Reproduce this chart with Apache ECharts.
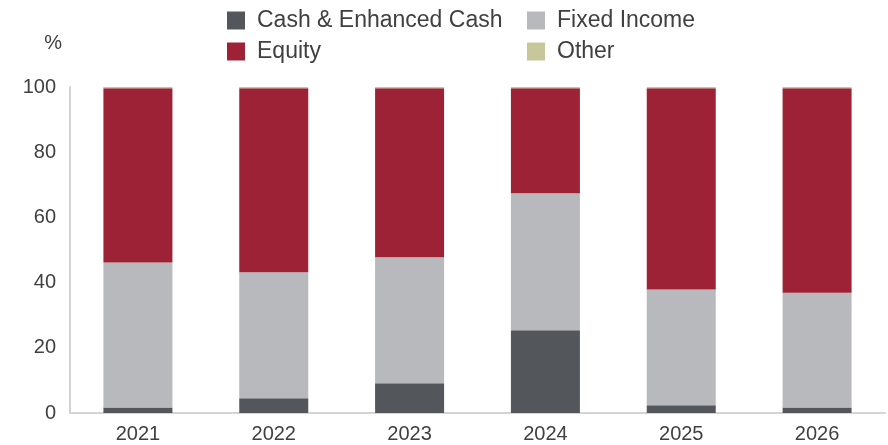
<!DOCTYPE html>
<html>
<head>
<meta charset="utf-8">
<script src="https://cdn.jsdelivr.net/npm/echarts@6/dist/echarts.min.js"></script>
<style>
  html, body { margin: 0; padding: 0; background: #fff; }
  #chart { width: 888px; height: 445px; }
</style>
</head>
<body>
<div id="chart"></div>
<script>
// ── Data ───────────────────────────────────────────────────────────────
const years = ["2021", "2022", "2023", "2024", "2025", "2026"];
const cash = [1.7, 4.5, 9.1, 25.4, 2.4, 1.7];
const fixedIncome = [44.5, 38.7, 38.7, 42.0, 35.5, 35.2];
const equity = [53.4, 56.4, 51.8, 32.2, 61.7, 62.7];
const other = [0.4, 0.4, 0.4, 0.4, 0.4, 0.4];
const yTicks = [0, 20, 40, 60, 80, 100];

const textColor = "#404040";
const font = "Liberation Sans, Arial, sans-serif";

const chart = echarts.init(document.getElementById("chart"));

function bar(name, data, color) {
  return {
    name,
    type: "bar",
    stack: "total",
    data,
    barWidth: 69,
    itemStyle: { color },
    emphasis: { disabled: true },
  };
}

const legendBase = {
  orient: "vertical",
  top: 9,
  padding: 0,
  itemWidth: 18,
  itemHeight: 18,
  itemGap: 8,
  icon: "rect",
  selectedMode: false,
  textStyle: {
    color: textColor, fontSize: 23, fontFamily: font,
    lineHeight: 18, padding: [0, 0, 0, 7],
  },
};

chart.setOption({
  animation: false,
  grid: { left: 70, right: 3, top: 87, bottom: 32 },
  legend: [
    { ...legendBase, left: 227, data: ["Cash & Enhanced Cash", "Equity"] },
    { ...legendBase, left: 527, data: ["Fixed Income", "Other"] },
  ],
  xAxis: {
    type: "category",
    data: years,
    axisLine: { lineStyle: { color: "#d4d4d4", width: 2 } },
    axisTick: { show: false },
    axisLabel: { color: textColor, fontSize: 20, fontFamily: font, margin: 11 },
  },
  yAxis: {
    type: "value",
    min: yTicks[0],
    max: yTicks[yTicks.length - 1],
    interval: yTicks[1] - yTicks[0],
    name: "%",
    nameLocation: "end",
    nameGap: 34,
    nameTextStyle: { color: textColor, fontSize: 20, fontFamily: font, align: "right", padding: [0, 8, 0, 0] },
    axisLine: { show: true, lineStyle: { color: "#d4d4d4", width: 2 } },
    axisTick: { show: false },
    splitLine: { show: false },
    axisLabel: { color: textColor, fontSize: 20, fontFamily: font, margin: 14 },
  },
  series: [
    bar("Cash & Enhanced Cash", cash, "#53565b"),
    bar("Fixed Income", fixedIncome, "#b7b9bd"),
    bar("Equity", equity, "#9e2236"),
    bar("Other", other, "#c7c79b"),
  ],
});
</script>
</body>
</html>
